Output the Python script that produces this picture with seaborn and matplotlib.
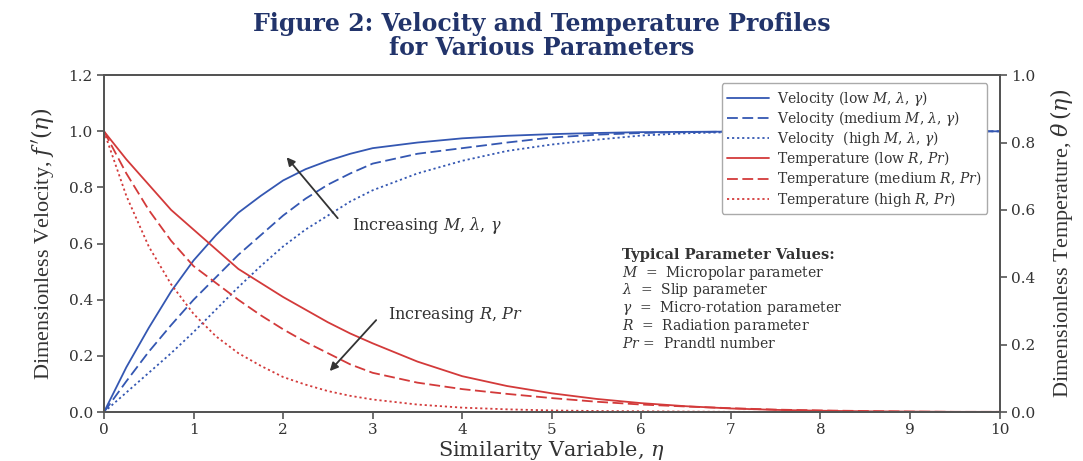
import matplotlib
matplotlib.use("Agg")
import matplotlib.pyplot as plt
import seaborn as sns
import pandas as pd

# ---------------- data ----------------
eta = [0, 0.25, 0.5, 0.75, 1, 1.25, 1.5, 1.75, 2, 2.25, 2.5, 2.75, 3,
       3.5, 4, 4.5, 5, 5.5, 6, 6.5, 7, 7.5, 8, 8.5, 9, 9.5, 10]

vel_low = [0, 0.16, 0.30, 0.43, 0.54, 0.63, 0.71, 0.77, 0.825, 0.865, 0.895, 0.92, 0.94,
           0.96, 0.975, 0.984, 0.99, 0.994, 0.997, 0.998, 0.999, 1.0, 1.0, 1.0, 1.0, 1.0, 1.0]
vel_med = [0, 0.11, 0.215, 0.31, 0.40, 0.48, 0.56, 0.63, 0.70, 0.76, 0.81, 0.85, 0.885,
           0.92, 0.94, 0.96, 0.978, 0.988, 0.994, 0.997, 0.999, 1.0, 1.0, 1.0, 1.0, 1.0, 1.0]
vel_high = [0, 0.07, 0.14, 0.21, 0.285, 0.365, 0.445, 0.52, 0.59, 0.65, 0.70, 0.75, 0.79,
            0.85, 0.895, 0.93, 0.953, 0.97, 0.985, 0.993, 0.997, 0.999, 1.0, 1.0, 1.0, 1.0, 1.0]

tmp_low = [1.0, 0.90, 0.81, 0.72, 0.65, 0.58, 0.51, 0.46, 0.41, 0.365, 0.32, 0.28, 0.245,
           0.18, 0.128, 0.093, 0.067, 0.047, 0.032, 0.021, 0.013, 0.008, 0.005, 0.003, 0.002, 0.001, 0.001]
tmp_med = [1.0, 0.85, 0.72, 0.61, 0.52, 0.46, 0.40, 0.345, 0.295, 0.25, 0.21, 0.17, 0.14,
           0.105, 0.082, 0.065, 0.05, 0.037, 0.027, 0.02, 0.014, 0.009, 0.006, 0.004, 0.002, 0.001, 0.001]
tmp_high = [1.0, 0.77, 0.59, 0.455, 0.35, 0.27, 0.21, 0.165, 0.125, 0.098, 0.075, 0.058, 0.045,
            0.027, 0.016, 0.01, 0.006, 0.004, 0.003, 0.002, 0.001, 0.001, 0.001, 0.0, 0.0, 0.0, 0.0]

series_labels = [
    r"Velocity (low $M$, $\lambda$, $\gamma$)",
    r"Velocity (medium $M$, $\lambda$, $\gamma$)",
    r"Velocity  (high $M$, $\lambda$, $\gamma$)",
    r"Temperature (low $R$, $Pr$)",
    r"Temperature (medium $R$, $Pr$)",
    r"Temperature (high $R$, $Pr$)",
]
series_values = [vel_low, vel_med, vel_high, tmp_low, tmp_med, tmp_high]

left_ticks = [0.0, 0.2, 0.4, 0.6, 0.8, 1.0, 1.2]
right_ticks = [0.0, 0.2, 0.4, 0.6, 0.8, 1.0]
x_ticks = [0, 1, 2, 3, 4, 5, 6, 7, 8, 9, 10]

# ---------------- styling ----------------
sns.set_theme(style="white")
plt.rcParams["font.family"] = ["DejaVu Serif"]
plt.rcParams["mathtext.fontset"] = "dejavuserif"

BLUE = "#3457b2"
RED = "#d33a3a"
SPINE = "#555555"
TXT = "#333333"
colors = [BLUE, BLUE, BLUE, RED, RED, RED]
styles = ["-", (0, (6, 2.5)), (0, (1.2, 1.6)), "-", (0, (6, 2.5)), (0, (1.2, 1.6))]

fig = plt.figure(figsize=(10.83, 4.61), dpi=100)
ax = fig.add_axes([0.096, 0.106, 0.827, 0.731])

for lab, vals, c, ls in zip(series_labels, series_values, colors, styles):
    df = pd.DataFrame({"eta": eta, "val": vals})
    sns.lineplot(data=df, x="eta", y="val", ax=ax, color=c, linewidth=1.3,
                 linestyle=ls, label=lab)

ax.set_xlim(0, 10)
ax.set_ylim(0, 1.2)
ax.set_xticks(x_ticks)
ax.set_yticks(left_ticks)
ax.set_xticklabels([str(t) for t in x_ticks])
ax.set_yticklabels([f"{t:.1f}" for t in left_ticks])

for sp in ax.spines.values():
    sp.set_color(SPINE)
    sp.set_linewidth(1.4)
ax.tick_params(axis="both", direction="out", length=5, width=1.2, color=SPINE,
               labelsize=11, labelcolor=TXT, left=True, bottom=True, pad=3)

ax.set_xlabel(r"Similarity Variable, $\eta$", fontsize=15, color=TXT, labelpad=1)
ax.set_ylabel(r"Dimensionless Velocity, $f\,'(\eta)$", fontsize=16, color=TXT,
              family="Liberation Serif", labelpad=9)

ax2 = ax.twinx()
ax2.set_ylim(0, 1.0)
ax2.set_yticks(right_ticks)
ax2.set_yticklabels([f"{t:.1f}" for t in right_ticks])
for sp in ax2.spines.values():
    sp.set_color(SPINE)
    sp.set_linewidth(1.4)
ax2.tick_params(axis="y", direction="out", length=5, width=1.2, color=SPINE,
                labelsize=11, labelcolor=TXT, right=True)
ax2.set_ylabel(r"Dimensionless Temperature, $\theta\,(\eta)$", fontsize=16, color=TXT,
               family="Liberation Serif", labelpad=9)
ax2.grid(False)
ax.grid(False)

leg = ax.legend(loc="upper right", bbox_to_anchor=(0.994, 0.996), fontsize=10,
                frameon=True, fancybox=True, edgecolor="#aaaaaa", framealpha=1,
                handlelength=3.0, handletextpad=0.6, labelspacing=0.08,
                borderpad=0.4)
for t in leg.get_texts():
    t.set_color(TXT)

# annotations
ax.annotate("", xy=(2.02, 0.915), xytext=(2.63, 0.683),
            arrowprops=dict(arrowstyle="-|>", color="#333333", lw=1.3, mutation_scale=12))
ax.text(2.77, 0.665, r"Increasing $M$, $\lambda$, $\gamma$", fontsize=11.5, color=TXT,
        va="center", ha="left")
ax.annotate("", xy=(2.5, 0.139), xytext=(3.06, 0.335),
            arrowprops=dict(arrowstyle="-|>", color="#333333", lw=1.3, mutation_scale=12))
ax.text(3.17, 0.345, r"Increasing $R$, $Pr$", fontsize=11.5, color=TXT,
        va="center", ha="left")

ax.text(5.78, 0.56, "Typical Parameter Values:", fontsize=10.5, fontweight="bold",
        color=TXT, va="center", ha="left")
param_lines = [r"$M$  =  Micropolar parameter", r"$\lambda$  =  Slip parameter",
               r"$\gamma$  =  Micro-rotation parameter", r"$R$  =  Radiation parameter",
               r"$Pr$ =  Prandtl number"]
for i, line in enumerate(param_lines):
    ax.text(5.78, 0.56 - 0.063 * (i + 1), line, fontsize=10, color=TXT,
            va="center", ha="left")

fig.suptitle("Figure 2: Velocity and Temperature Profiles\nfor Various Parameters",
             fontsize=17, fontweight="bold", color="#22346b", y=0.975,
             linespacing=1.05)

fig.savefig("out.png", dpi=100)
